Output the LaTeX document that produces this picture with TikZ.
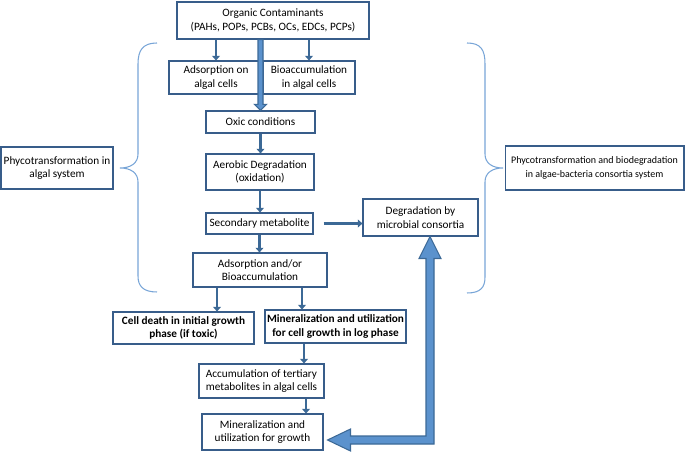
\documentclass[tikz,border=0pt]{standalone}
\usepackage{fontspec}
\setmainfont{Carlito}
\usetikzlibrary{arrows.meta,calc}
\definecolor{boxline}{RGB}{56,93,138}
\definecolor{flowblue}{RGB}{60,105,150}
\definecolor{fatfill}{RGB}{91,146,205}
\definecolor{bracecol}{RGB}{120,165,215}

\begin{document}
\begin{tikzpicture}[x=0.02cm, y=-0.02cm,
  stage/.style={draw=boxline, line width=0.6pt, align=center, inner sep=1pt, font=\fontsize{6.4}{7.6}\selectfont},
  flow/.style={draw=flowblue, line width=1.4pt, -{Triangle[length=2.6pt,width=4.4pt]}},
  fat/.style={draw=flowblue, line width=0.6pt, fill=fatfill, line join=miter},
  curly/.style={draw=bracecol, line width=0.6pt}]
    \useasboundingbox (0,0) rectangle (685,455);

    \node[stage, minimum width=3.84cm, minimum height=0.74cm] (org) at (273,20.5) {Organic Contaminants\\(PAHs, POPs, PCBs, OCs, EDCs, PCPs)};
    \node[stage, minimum width=1.88cm, minimum height=0.66cm] (adsorb) at (216,77.5) {Adsorption on\\algal cells};
    \node[stage, minimum width=1.84cm, minimum height=0.66cm] (bioacc) at (309,77.5) {Bioaccumulation\\in algal cells};
    \node[stage, minimum width=2.18cm, minimum height=0.44cm] (oxic) at (260.5,122) {Oxic conditions};
    \node[stage, minimum width=2.16cm, minimum height=0.72cm] (aerobic) at (260,172) {Aerobic Degradation\\(oxidation)};
    \node[stage, minimum width=2.14cm, minimum height=0.42cm] (secmet) at (259.5,223.5) {Secondary metabolite};
    \node[stage, minimum width=2.30cm, minimum height=0.74cm] (microbial) at (420.5,217.5) {Degradation by\\microbial consortia};
    \node[stage, minimum width=2.68cm, minimum height=0.68cm] (adsbio) at (260,270) {Adsorption and/or\\Bioaccumulation};
    \node[stage, font=\fontsize{6.4}{7.6}\selectfont\bfseries, minimum width=2.82cm, minimum height=0.64cm] (death) at (183.5,328) {Cell death in initial growth\\phase (if toxic)};
    \node[stage, font=\fontsize{6.4}{7.6}\selectfont\bfseries, minimum width=2.82cm, minimum height=0.66cm] (logphase) at (335.5,326.5) {Mineralization and utilization\\for cell growth in log phase};
    \node[stage, minimum width=2.50cm, minimum height=0.68cm] (tertiary) at (261.5,381) {Accumulation of tertiary\\metabolites in algal cells};
    \node[stage, minimum width=2.42cm, minimum height=0.72cm] (growth) at (262.5,432) {Mineralization and\\utilization for growth};
    \node[stage, minimum width=2.24cm, minimum height=0.84cm] (algal) at (57,168) {Phycotransformation in\\algal system};
    \node[stage, font=\fontsize{5.7}{7.6}\selectfont, minimum width=3.58cm, minimum height=0.88cm] (consort) at (594.5,168) {Phycotransformation and biodegradation\\in algae-bacteria consortia system};

    \draw[flow] (org.south -| adsorb) -- (adsorb.north);
    \draw[flow] (org.south -| bioacc) -- (bioacc.north);
    \draw[flow] (oxic.south) -- (oxic.south |- aerobic.north);
    \draw[flow] (aerobic.south) -- (aerobic.south |- secmet.north);
    \draw[flow] ([xshift=0.2cm]secmet.east) -- (secmet.east -| microbial.west);
    \draw[flow] (secmet.south) -- (secmet.south |- adsbio.north);
    \draw[flow] ([xshift=-0.86cm]adsbio.south) coordinate (d1) -- (d1 |- death.north);
    \draw[flow] ([xshift=0.84cm]adsbio.south) coordinate (d2) -- (d2 |- logphase.north);
    \draw[flow] ([xshift=-0.63cm]logphase.south) coordinate (d3) -- (d3 |- tertiary.north);
    \draw[flow] ([xshift=0.89cm]tertiary.south) coordinate (d4) -- (d4 |- growth.north);

    \draw[fat] ($(org.south -| oxic.north)+(-2.5,0)$) -- ($(oxic.north)+(-2.5,-6)$) -- ++(-3.5,0) -- (oxic.north) -- ++(6,-6) -- ++(-3.5,0) -- ($(org.south -| oxic.north)+(2.5,0)$) -- cycle;

    \coordinate (turn) at (430,440);
    \coordinate (uptip) at (microbial.south -| turn);
    \coordinate (lefttip) at ($(growth.east |- turn)+(4,0)$);
    \draw[fat] (uptip) -- ++(11,22) -- ++(-7,0) -- ($(turn)+(4,4)$) -- ($(lefttip)+(23,4)$) -- ++(0,7) -- (lefttip) -- ++(23,-11) -- ++(0,7) -- ($(turn)+(-4,-4)$) -- ($(uptip)+(-4,22)$) -- ++(-7,0) -- cycle;

    \draw[curly] (157,43) .. controls (143,43) and (138,50) .. (138,64) -- (138,154) .. controls (138,163) and (131,168) .. (120,168) .. controls (131,168) and (138,173) .. (138,182) -- (138,276) .. controls (138,286) and (143,292) .. (157,292);
    \draw[curly] (467,43) .. controls (481,43) and (485,50) .. (485,64) -- (485,154) .. controls (485,163) and (492,168) .. (503,168) .. controls (492,168) and (485,173) .. (485,182) -- (485,277) .. controls (485,287) and (481,293) .. (467,293);
\end{tikzpicture}
\end{document}
